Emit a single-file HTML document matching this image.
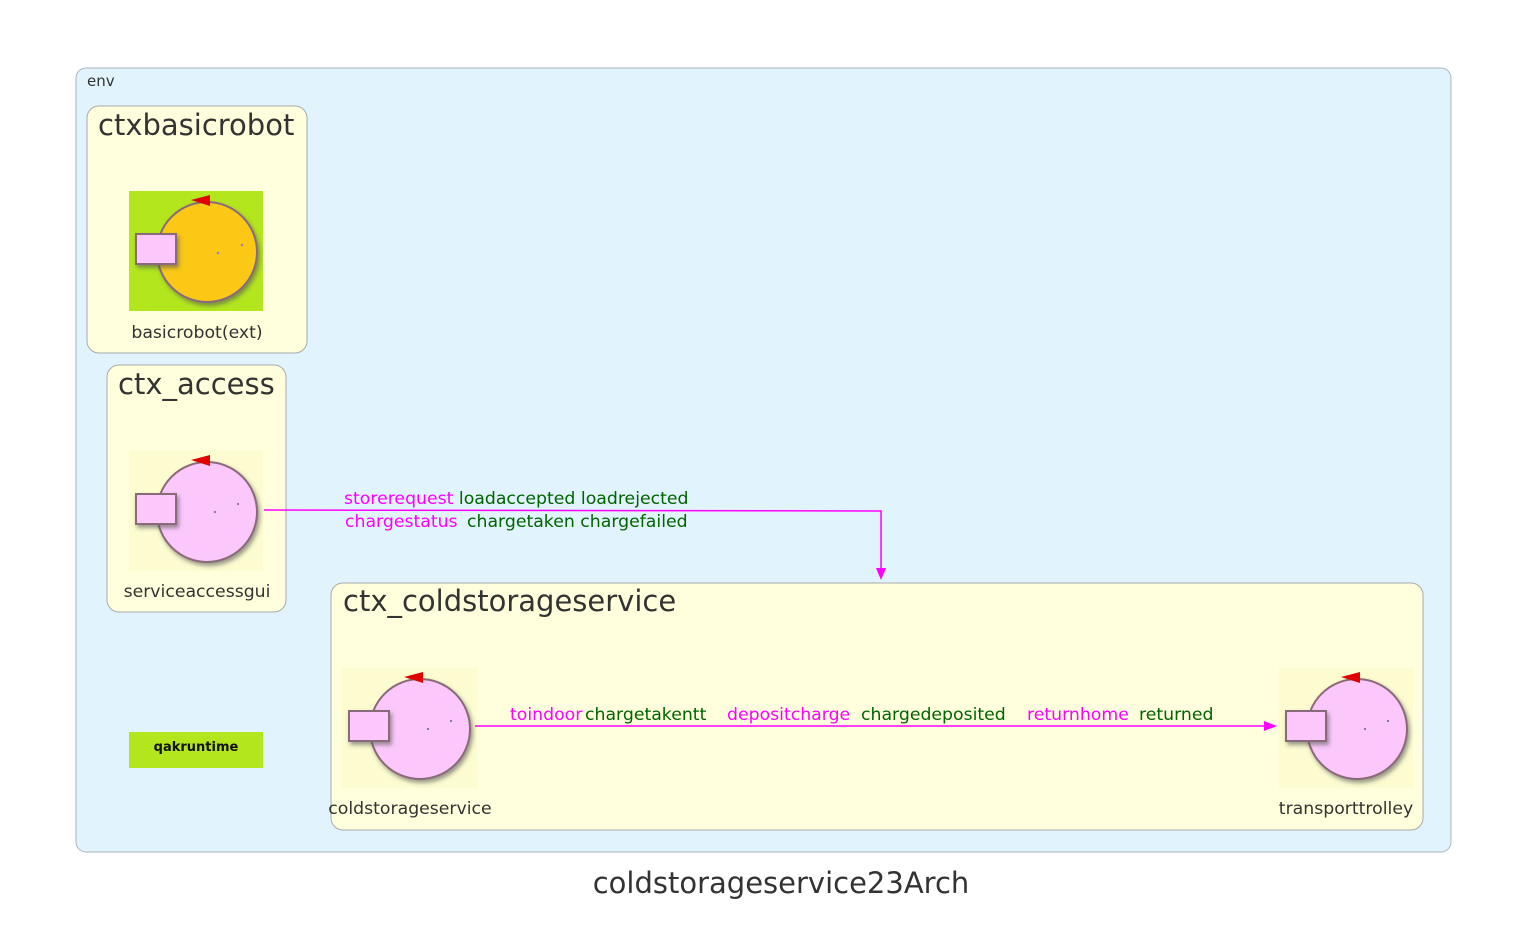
<!DOCTYPE html>
<html><head><meta charset="utf-8"><style>
html,body{margin:0;padding:0;background:#fff;}
svg{display:block;font-family:"DejaVu Sans","Liberation Sans",sans-serif;}
</style></head><body>
<svg width="1531" height="939" viewBox="0 0 1531 939" xmlns="http://www.w3.org/2000/svg">
<defs>
<filter id="sh" x="-20%" y="-20%" width="150%" height="150%"><feDropShadow dx="2" dy="3" stdDeviation="2" flood-color="#555" flood-opacity="0.6"/></filter>
<g id="icon">
 <circle cx="78" cy="61" r="50" fill="#fcc8fc" stroke="#8a6a7a" stroke-width="2" filter="url(#sh)"/>
 <rect x="7" y="43" width="40" height="30" fill="#fcc8fc" stroke="#8a6a7a" stroke-width="2" filter="url(#sh)"/>
 <polygon points="62,9 81,4 81,15" fill="#e00000"/>
 <circle cx="86" cy="61" r="1" fill="#666"/>
 <circle cx="109" cy="53" r="1" fill="#666"/>
</g>
</defs>
<rect x="76" y="68" width="1375" height="784" rx="10" fill="#e1f3fc" stroke="#a8b4bc"/>
<text x="87" y="86" font-size="15" fill="#333">env</text>

<rect x="87" y="106" width="220" height="247" rx="12" fill="#ffffdd" stroke="#aaa"/>
<text x="98" y="135" font-size="29" fill="#333">ctxbasicrobot</text>
<rect x="129" y="191" width="134" height="120" fill="#b4e61e"/>
<g transform="translate(129,191)">
 <circle cx="78" cy="61" r="50" fill="#fcc814" stroke="#8a6a7a" stroke-width="2" filter="url(#sh)"/>
 <rect x="7" y="43" width="40" height="30" fill="#fcc8fc" stroke="#8a6a7a" stroke-width="2" filter="url(#sh)"/>
 <polygon points="62,9 81,4 81,15" fill="#e00000"/>
 <circle cx="89" cy="62" r="1.3" fill="#a080c0"/><circle cx="113" cy="54" r="1.3" fill="#a080c0"/>
</g>
<text x="197" y="338" font-size="17.3" fill="#333" text-anchor="middle">basicrobot(ext)</text>

<rect x="107" y="365" width="179" height="247" rx="12" fill="#ffffdd" stroke="#aaa"/>
<text x="118" y="394" font-size="29" fill="#333">ctx_access</text>
<rect x="129" y="451" width="134" height="120" fill="#fcfcd0"/>
<use href="#icon" transform="translate(129,451)"/>
<text x="197" y="597" font-size="17.3" fill="#333" text-anchor="middle">serviceaccessgui</text>

<rect x="129" y="732" width="134" height="36" fill="#b4e61e"/>
<text x="196" y="751" font-size="13" font-weight="bold" fill="#111" text-anchor="middle">qakruntime</text>

<rect x="331" y="583" width="1092" height="247" rx="12" fill="#ffffdd" stroke="#aaa"/>
<text x="343" y="611" font-size="29" fill="#333">ctx_coldstorageservice</text>
<rect x="342" y="668" width="135" height="120" fill="#fcfcd0"/>
<use href="#icon" transform="translate(342,668)"/>
<text x="410" y="814" font-size="17.3" fill="#333" text-anchor="middle">coldstorageservice</text>
<rect x="1279" y="668" width="134" height="120" fill="#fcfcd0"/>
<use href="#icon" transform="translate(1279,668)"/>
<text x="1346" y="814" font-size="17.3" fill="#333" text-anchor="middle">transporttrolley</text>

<path d="M264,510 L881,511 L881,570" fill="none" stroke="#ff00ff" stroke-width="1.5"/>
<polygon points="876,568 886,568 881,580" fill="#ff00ff"/>
<text x="344" y="504" font-size="17.3"><tspan fill="#ff00ff">storerequest</tspan><tspan fill="#006400"> loadaccepted loadrejected</tspan></text>
<text x="345" y="527" font-size="17.3"><tspan fill="#ff00ff">chargestatus</tspan><tspan fill="#006400" x="467">chargetaken chargefailed</tspan></text>

<path d="M475,726 L1266,726" fill="none" stroke="#ff00ff" stroke-width="1.5"/>
<polygon points="1264,721 1264,731 1277,726" fill="#ff00ff"/>
<text x="510" y="720" font-size="17.3"><tspan fill="#ff00ff">toindoor</tspan><tspan fill="#006400" x="585">chargetakentt</tspan></text>
<text x="727" y="720" font-size="17.3"><tspan fill="#ff00ff">depositcharge</tspan><tspan fill="#006400" x="861">chargedeposited</tspan></text>
<text x="1027" y="720" font-size="17.3"><tspan fill="#ff00ff">returnhome</tspan><tspan fill="#006400" x="1139">returned</tspan></text>

<text x="781" y="893" font-size="29" fill="#333" text-anchor="middle">coldstorageservice23Arch</text>
</svg>
</body></html>
